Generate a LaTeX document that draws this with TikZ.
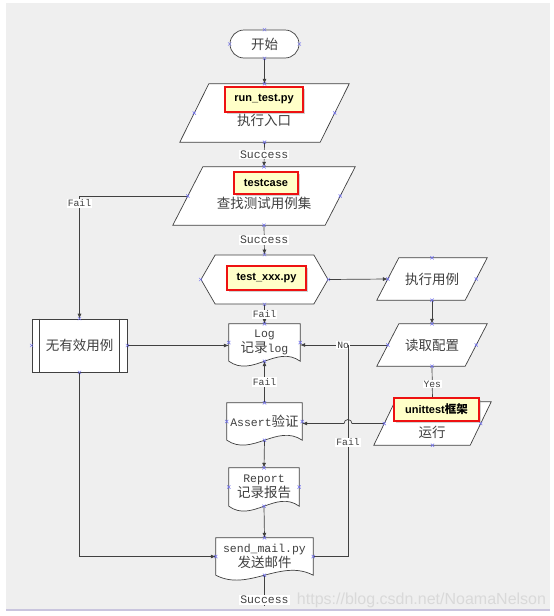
\documentclass[tikz,border=0pt]{standalone}
\usepackage{fontspec}
\setmainfont{Liberation Mono}
\newfontfamily\cjk{Noto Sans CJK SC}
\newfontfamily\tagfont{Liberation Sans}
\usetikzlibrary{shapes.symbols,shapes.misc,arrows.meta,shadows}

\definecolor{paper}{HTML}{EFEFEF}
\definecolor{ink}{HTML}{404040}
\definecolor{tagfill}{HTML}{FFFFC8}
\definecolor{tagred}{HTML}{EE1111}
\definecolor{pin}{HTML}{6E6EF0}
\definecolor{rim}{HTML}{C9C5DE}
\definecolor{mark}{HTML}{D9D9D9}

\newcommand{\zh}[1]{{\cjk\fontsize{13.5}{15}\selectfont #1}}

\pgfdeclarelayer{back}
\pgfsetlayers{back,main}

\tikzset{
  shape base/.style={draw=ink, fill=white, line width=0.7pt, inner sep=1pt, text=ink, font=\cjk\fontsize{13.5}{16}\selectfont},
  startbox/.style={shape base, rounded rectangle, minimum width=71pt, minimum height=28pt},
  iobox/.style={rectangle, inner sep=0pt, text=ink, font=\cjk\fontsize{13.5}{16}\selectfont},
  hexbox/.style={shape base, signal, signal to=west and east, signal pointer angle=120, minimum width=127pt, minimum height=49pt},
  subbox/.style={shape base, rectangle, minimum width=95pt, minimum height=53pt},
  docbox/.style={rectangle, inner sep=0pt, align=center, text=ink, font=\fontsize{11.5}{15}\selectfont},
  outline/.style={fill=white, draw=ink, line width=0.7pt},
  zhtext/.style={inner sep=0pt, text=ink, font=\cjk\fontsize{13.5}{16}\selectfont},
  tagbox/.style={draw=tagred, fill=tagfill, line width=1.5pt, inner sep=0pt, font=\tagfont\bfseries\fontsize{11}{13}\selectfont, drop shadow={opacity=0.35, shadow xshift=2pt, shadow yshift=-2pt}},
  flow/.style={draw=ink, line width=0.7pt, -{Latex[length=5pt,width=4pt]}},
  plain/.style={draw=ink, line width=0.7pt},
  big label/.style={fill=white, inner sep=1pt, text=ink, font=\fontsize{11.5}{12}\selectfont},
  small label/.style={fill=white, inner sep=1pt, text=ink, font=\fontsize{9.7}{11}\selectfont},
  pinmark/.style={draw=pin, line width=0.45pt},
}

\begin{document}
\begin{tikzpicture}[x=1pt,y=1pt]
\useasboundingbox (0,0) rectangle (554,-616);
\begin{pgfonlayer}{back}
\fill[paper] (6,-3) rectangle (550,-609);
\draw[rim, line width=2pt] (6,-610) -- (550,-610);
\end{pgfonlayer}

\node[startbox] (start) at (264.5,-44) {开始};
\node[iobox, minimum width=140pt, minimum height=58pt] (run) at (264.5,-113) {};
\node[iobox, minimum width=152pt, minimum height=58pt] (tc) at (264,-196) {};
\node[hexbox] (xxx) at (264.5,-279.5) {};
\node[subbox] (none) at (79.5,-345.5) {无有效用例};
\node[iobox, minimum width=88pt, minimum height=42pt] (exec) at (432,-279) {执行用例};
\node[iobox, minimum width=88pt, minimum height=42pt] (read) at (432,-345) {读取配置};
\node[iobox, minimum width=96pt, minimum height=43pt] (run2) at (432.5,-423.5) {};

\node[docbox, minimum width=71pt, minimum height=37pt] (log) at (264.5,-342.5) {Log\\\zh{记录}log};
\node[docbox, minimum width=75pt, minimum height=37pt] (assert) at (264.5,-421.5) {Assert\zh{验证}};
\node[docbox, minimum width=70pt, minimum height=38pt] (report) at (264,-487) {Report\\\zh{记录报告}};
\node[docbox, minimum width=97pt, minimum height=37pt] (mail) at (264.5,-556.5) {send\_mail.py\\\zh{发送邮件}};

\begin{pgfonlayer}{back}
\foreach \n/\s in {run/14.5,tc/15,exec/11,read/11,run2/10.5}
  \draw[outline] ([xshift=\s]\n.north west) -- ([xshift=\s]\n.north east) -- ([xshift=-\s]\n.south east) -- ([xshift=-\s]\n.south west) -- cycle;
\foreach \n/\w in {log/71,assert/75,report/70,mail/97}
  \draw[outline] (\n.south west) -- (\n.north west) -- (\n.north east) -- (\n.south east)
    .. controls ([xshift=-\w/3, yshift=17pt]\n.south east) and ([xshift=\w/3, yshift=-17pt]\n.south west) .. (\n.south west) -- cycle;
\end{pgfonlayer}

\node[zhtext] (runtxt) at (264,-120) {执行入口};
\node[zhtext] (tctxt) at (264,-203) {查找测试用例集};
\node[zhtext] (run2txt) at (432,-432) {运行};

\draw[plain] ([xshift=8pt]none.north west) -- ([xshift=8pt]none.south west);
\draw[plain] ([xshift=-8pt]none.north east) -- ([xshift=-8pt]none.south east);

\coordinate (nojoin) at (348,-345);
\coordinate (mailend) at (264.5,-606);

\draw[flow] (start.south) -- (run.north);
\draw[flow] (run.south) -- node[big label] (ok1) {Success} (tc.north);
\draw[flow] (tc.south) -- node[big label] (ok2) {Success} (xxx.north);
\draw[flow] (tc.west) -| node[small label, pos=0.53] (fail1) {Fail} (none.north);
\draw[flow] (xxx.east) -- (exec.west);
\draw[flow] (xxx.south) -- node[small label] (fail2) {Fail} (log.north);
\draw[flow] (none.east) -- (log.west |- none.east);
\draw[flow] (exec.south) -- (read.north);
\draw[flow] (read.west) -- node[small label, pos=0.51] (no) {No} (log.east |- read.west);
\draw[plain] (read.south) -- node[small label] (yes) {Yes} (run2.north);
\draw[flow] (run2.west) -- ([xshift=4pt]nojoin |- run2.west) arc[start angle=0, end angle=180, radius=4pt] -- (assert.east |- run2.west);
\draw[flow] (assert.north) -- node[small label] (fail3) {Fail} (log.south);
\draw[flow] (assert.south) -- (report.north);
\draw[flow] (report.south) -- (mail.north);
\draw[flow] (none.south) |- (mail.west);
\draw[plain] (mail.east) -| node[small label, pos=0.77] (fail4) {Fail} (nojoin);
\draw[plain] (mail.south) -- node[big label, pos=0.8] (ok3) {Success} (mailend);

\foreach \p in {start, run, tc, xxx, exec, read, run2, none, log, assert, report, mail}
  \foreach \a in {north, south, west, east}
    \draw[pinmark] (\p.\a) +(-1.6pt,-1.6pt) -- +(1.6pt,1.6pt) +(-1.6pt,1.6pt) -- +(1.6pt,-1.6pt);

\node[tagbox, minimum width=78pt, minimum height=25pt] (runtag) at (264,-99.5) {run\_test.py};
\node[tagbox, minimum width=64pt, minimum height=22pt] (tctag) at (266,-183) {testcase};
\node[tagbox, minimum width=79pt, minimum height=24pt] (xxxtag) at (266.5,-278) {test\_xxx.py};
\node[tagbox, minimum width=85pt, minimum height=23pt] (run2tag) at (436.5,-409.5) {unittest{\cjk\bfseries\fontsize{11.5}{13}\selectfont 框架}};

\node[text=mark, font=\tagfont\fontsize{16}{18}\selectfont] (blog) at (421.5,-600) {https://blog.csdn.net/NoamaNelson};
\end{tikzpicture}
\end{document}
